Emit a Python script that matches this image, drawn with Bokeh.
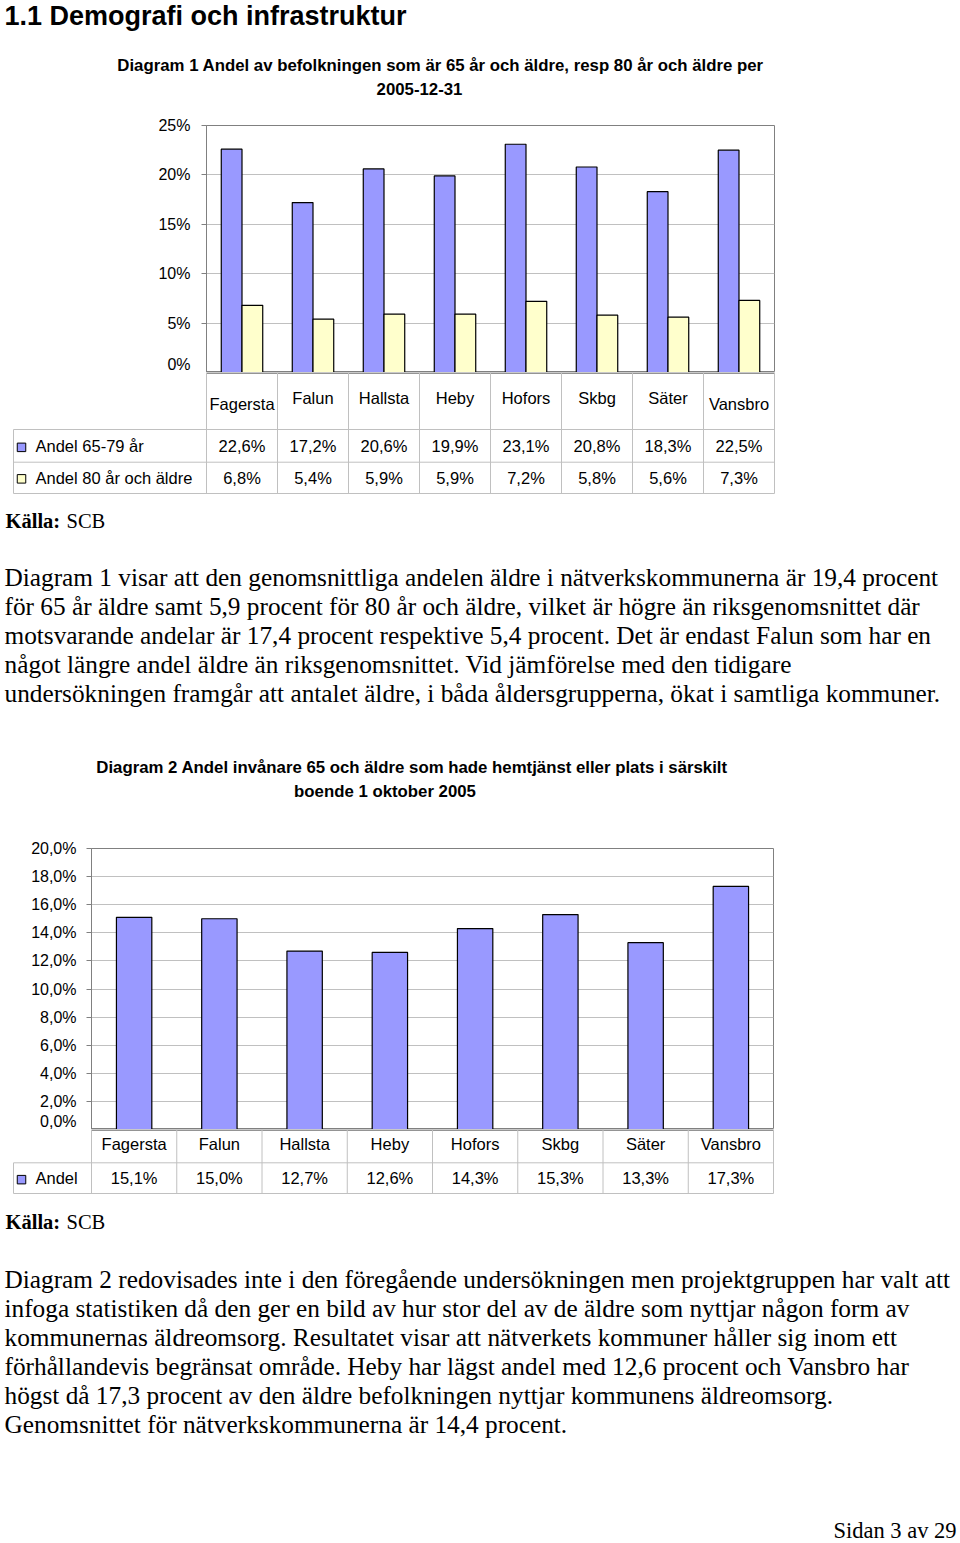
from bokeh.plotting import figure
from bokeh.models import Range1d, FixedTicker
from bokeh.core.properties import value
from bokeh.embed import file_html
from bokeh.resources import INLINE

# ---------------- data ----------------
categories = ["Fagersta", "Falun", "Hallsta", "Heby", "Hofors", "Skbg", "Säter", "Vansbro"]
andel_65_79 = [22.6, 17.2, 20.6, 19.9, 23.1, 20.8, 18.3, 22.5]
andel_80_plus = [6.8, 5.4, 5.9, 5.9, 7.2, 5.8, 5.6, 7.3]
series1_names = ["Andel 65-79 år", "Andel 80 år och äldre"]
y1_ticks = [0, 5, 10, 15, 20, 25]
y1_tick_labels = ["0%", "5%", "10%", "15%", "20%", "25%"]

andel_hemtjanst = [15.1, 15.0, 12.7, 12.6, 14.3, 15.3, 13.3, 17.3]
series2_names = ["Andel"]
y2_ticks = [0, 2, 4, 6, 8, 10, 12, 14, 16, 18, 20]
y2_tick_labels = ["0,0%", "2,0%", "4,0%", "6,0%", "8,0%", "10,0%", "12,0%",
                  "14,0%", "16,0%", "18,0%", "20,0%"]

heading = "1.1 Demografi och infrastruktur"
title1 = ["Diagram 1 Andel av befolkningen som är 65 år och äldre, resp 80 år och äldre per",
          "2005-12-31"]
title2 = ["Diagram 2 Andel invånare 65 och äldre som hade hemtjänst eller plats i särskilt",
          "boende 1 oktober 2005"]
para1 = [
    "Diagram 1 visar att den genomsnittliga andelen äldre i nätverkskommunerna är 19,4 procent",
    "för 65 år äldre samt 5,9 procent för 80 år och äldre, vilket är högre än riksgenomsnittet där",
    "motsvarande andelar är 17,4 procent respektive 5,4 procent. Det är endast Falun som har en",
    "något längre andel äldre än riksgenomsnittet. Vid jämförelse med den tidigare",
    "undersökningen framgår att antalet äldre, i båda åldersgrupperna, ökat i samtliga kommuner.",
]
para2 = [
    "Diagram 2 redovisades inte i den föregående undersökningen men projektgruppen har valt att",
    "infoga statistiken då den ger en bild av hur stor del av de äldre som nyttjar någon form av",
    "kommunernas äldreomsorg. Resultatet visar att nätverkets kommuner håller sig inom ett",
    "förhållandevis begränsat område. Heby har lägst andel med 12,6 procent och Vansbro har",
    "högst då 17,3 procent av den äldre befolkningen nyttjar kommunens äldreomsorg.",
    "Genomsnittet för nätverkskommunerna är 14,4 procent.",
]
source_bold = "Källa:"
source_text = "SCB"
footer = "Sidan 3 av 29"

# ---------------- styles ----------------
SANS = "Liberation Sans"
SERIF = "Liberation Serif"
BLUE = "#9999FF"
YELLOW = "#FFFFCC"
GRID = "#C0C0C0"
FRAME = "#808080"
AXIS0 = "#707070"
W = 960
TITLE_FS = "16.8px"
BODY_FS = "25.3px"


def pct(v):
    return ("%.1f" % v).replace(".", ",") + "%"


def text_fig(h):
    f = figure(width=W, height=h, x_range=Range1d(0, W), y_range=Range1d(h, 0),
               output_backend="svg", toolbar_location=None,
               x_axis_location=None, y_axis_location=None, min_border=0)
    f.grid.visible = False
    f.outline_line_color = None
    f.background_fill_color = "white"
    f.border_fill_color = "white"
    return f


def txt(f, x, y, s, size, font=SANS, style="normal", align="left", rng="default"):
    f.text(x=x if isinstance(x, list) else [x], y=y if isinstance(y, list) else [y],
           text=s if isinstance(s, list) else [s],
           text_font=value(font), text_font_size=value(size),
           text_font_style=value(style), text_align=value(align),
           text_baseline=value("middle"), text_color="black", x_range_name=rng)


def chart_fig(h, left, right, top, ymax, ticks, labels, standoff):
    f = figure(width=W, height=h, x_range=Range1d(0, len(categories)),
               y_range=Range1d(0, ymax), output_backend="svg", toolbar_location=None,
               x_axis_location=None, min_border_left=left, min_border_right=W - right,
               min_border_top=top, min_border_bottom=0)
    f.xgrid.visible = False
    f.ygrid.grid_line_color = GRID
    f.ygrid.grid_line_width = 1
    f.outline_line_color = FRAME
    f.outline_line_width = 1
    f.border_fill_color = "white"
    ax = f.yaxis[0]
    ax.ticker = FixedTicker(ticks=ticks)
    ax.major_label_overrides = {t: l for t, l in zip(ticks, labels)}
    ax.major_tick_out = 5
    ax.major_tick_in = 0
    ax.minor_tick_out = 0
    ax.minor_tick_in = 0
    ax.major_tick_line_color = FRAME
    ax.axis_line_color = FRAME
    ax.major_label_text_font = SANS
    ax.major_label_text_font_size = "16px"
    ax.major_label_text_color = "black"
    ax.major_label_standoff = standoff
    return f


n = len(categories)
idx = list(range(n))

# ---------------- header (page y 0..112) ----------------
fa = text_fig(112)
txt(fa, 4, 15, heading, "27px", style="bold")
txt(fa, 440, 65, title1[0], TITLE_FS, style="bold", align="center")
txt(fa, 419, 88, title1[1], TITLE_FS, style="bold", align="center")

# ---------------- chart 1 (page y 112..372) ----------------
fb = chart_fig(260, 206, 774, 13, 25, y1_ticks, y1_tick_labels, 11)
bw1 = 0.292
fb.vbar(x=[i + 0.5 - bw1 / 2 for i in idx], top=andel_65_79, bottom=0, width=bw1,
        fill_color=BLUE, line_color="black", line_width=1.2)
fb.vbar(x=[i + 0.5 + bw1 / 2 for i in idx], top=andel_80_plus, bottom=0, width=bw1,
        fill_color=YELLOW, line_color="black", line_width=1.2)

# ---------------- table 1, text, title 2 (page y 372..835) ----------------
OFF_C = 372
fc = text_fig(835 - OFF_C)
L1, R1 = 206, 774
cw1 = (R1 - L1) / n
fc.extra_x_ranges = {"cat": Range1d(-L1 / cw1, (W - L1) / cw1)}
t_top, t_mid, t_bot = 429 - OFF_C, 461.7 - OFF_C, 493 - OFF_C
fc.segment(x0=[0], y0=[0.5], x1=[n], y1=[0.5], line_color=AXIS0, line_width=1.3, x_range_name="cat")
fc.segment(x0=list(range(n + 1)), y0=[0] * (n + 1), x1=list(range(n + 1)), y1=[t_bot] * (n + 1),
           line_color=GRID, line_width=1, x_range_name="cat")
fc.segment(x0=[13, 13, 13, 13], y0=[t_top, t_mid, t_bot, t_top], x1=[R1, R1, R1, 13],
           y1=[t_top, t_mid, t_bot, t_bot], line_color=GRID, line_width=1)
cat_y1 = [403 - OFF_C if i in (0, n - 1) else 397 - OFF_C for i in idx]
txt(fc, [i + 0.5 for i in idx], cat_y1, categories, "16.5px", align="center", rng="cat")
row_y = [(t_top + t_mid) / 2, (t_mid + t_bot) / 2]
fc.rect(x=[21, 21], y=[row_y[0] + 1.5, row_y[1] + 1], width=8.5, height=8.5,
        fill_color=[BLUE, YELLOW], line_color="black", line_width=1)
txt(fc, [35, 35], row_y, series1_names, "16.5px")
txt(fc, [i + 0.5 for i in idx], [row_y[0]] * n, [pct(v) for v in andel_65_79], "16.5px",
    align="center", rng="cat")
txt(fc, [i + 0.5 for i in idx], [row_y[1]] * n, [pct(v) for v in andel_80_plus], "16.5px",
    align="center", rng="cat")
txt(fc, 5, 520 - OFF_C, source_bold, "20.5px", font=SERIF, style="bold")
txt(fc, 66, 520 - OFF_C, source_text, "20.5px", font=SERIF)
for k, line in enumerate(para1):
    txt(fc, 4, 576 - OFF_C + 29 * k, line, BODY_FS, font=SERIF)
txt(fc, 411.5, 767 - OFF_C, title2[0], TITLE_FS, style="bold", align="center")
txt(fc, 384.5, 791 - OFF_C, title2[1], TITLE_FS, style="bold", align="center")

# ---------------- chart 2 (page y 835..1129) ----------------
fd = chart_fig(294, 91, 773, 13, 20, y2_ticks, y2_tick_labels, 10)
fd.vbar(x=[i + 0.5 for i in idx], top=andel_hemtjanst, bottom=0, width=0.415,
        fill_color=BLUE, line_color="black", line_width=1.2)

# ---------------- table 2, text, footer (page y 1129..1543) ----------------
OFF_E = 1129
fe = text_fig(1543 - OFF_E)
L2, R2 = 91, 773
cw2 = (R2 - L2) / n
fe.extra_x_ranges = {"cat": Range1d(-L2 / cw2, (W - L2) / cw2)}
e_mid, e_bot = 1162.3 - OFF_E, 1193 - OFF_E
fe.segment(x0=[0], y0=[0.5], x1=[n], y1=[0.5], line_color=AXIS0, line_width=1.3, x_range_name="cat")
fe.segment(x0=list(range(n + 1)), y0=[0] * (n + 1), x1=list(range(n + 1)), y1=[e_bot] * (n + 1),
           line_color=GRID, line_width=1, x_range_name="cat")
fe.segment(x0=[13, 13, 13], y0=[e_mid, e_bot, e_mid], x1=[R2, R2, 13], y1=[e_mid, e_bot, e_bot],
           line_color=GRID, line_width=1)
txt(fe, [i + 0.5 for i in idx], [1143 - OFF_E] * n, categories, "16.5px", align="center", rng="cat")
row2_y = (e_mid + e_bot) / 2
fe.rect(x=[21], y=[row2_y + 1.5], width=8.5, height=8.5, fill_color=BLUE, line_color="black", line_width=1)
txt(fe, 35, row2_y, series2_names[0], "16.5px")
txt(fe, [i + 0.5 for i in idx], [row2_y] * n, [pct(v) for v in andel_hemtjanst], "16.5px",
    align="center", rng="cat")
txt(fe, 5, 1221.5 - OFF_E, source_bold, "20.5px", font=SERIF, style="bold")
txt(fe, 66, 1221.5 - OFF_E, source_text, "20.5px", font=SERIF)
for k, line in enumerate(para2):
    txt(fe, 4, 1278 - OFF_E + 29 * k, line, BODY_FS, font=SERIF)
txt(fe, 956, 1529.5 - OFF_E, footer, "22.5px", font=SERIF, align="right")

# separate roots so that Bokeh does not align the frames of the stacked figures
p = [fa, fb, fc, fd, fe]
open("out.html", "w").write(file_html(p, INLINE))
